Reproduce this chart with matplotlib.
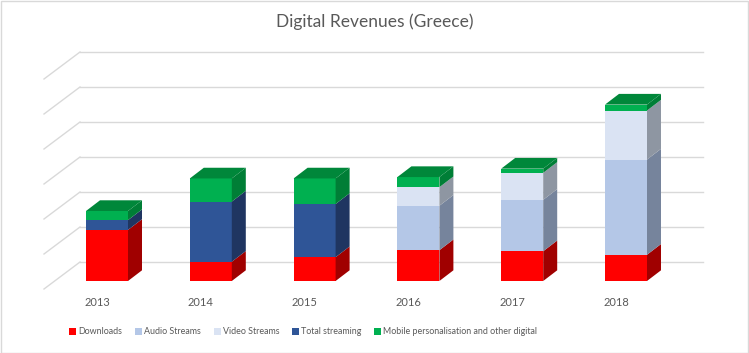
import matplotlib
matplotlib.use("Agg")
import matplotlib.pyplot as plt
from matplotlib.patches import Polygon, Rectangle

# ---- data (values in gridline units) ----
years = ["2013", "2014", "2015", "2016", "2017", "2018"]
downloads = [1.46, 0.55, 0.68, 0.88, 0.85, 0.75]
audio_streams = [0.0, 0.0, 0.0, 1.27, 1.47, 2.72]
video_streams = [0.0, 0.0, 0.0, 0.53, 0.77, 1.40]
total_streaming = [0.28, 1.72, 1.52, 0.0, 0.0, 0.0]
mobile_other = [0.26, 0.66, 0.73, 0.29, 0.12, 0.17]
series_names = ["Downloads", "Audio Streams", "Video Streams", "Total streaming",
                "Mobile personalisation and other digital"]
gridlines = [0, 1, 2, 3, 4, 5, 6]

series = [downloads, audio_streams, video_streams, total_streaming, mobile_other]
front_cols = ["#FF0000", "#B4C7E7", "#DAE3F3", "#2F5597", "#00B050"]
side_cols = ["#A00000", "#76849C", "#8E96A2", "#1F3561", "#007E36"]
top_cols = ["#C00000", "#8A9AB5", "#B0B8C4", "#24406F", "#00873A"]

W, H = 749, 353
fig = plt.figure(figsize=(W / 100, H / 100), dpi=100)
ax = fig.add_axes([0, 0, 1, 1])
ax.set_axis_off()

# pixel-based scale helpers
XS = 103.8   # px per category
YS = 35.0    # px per value unit
x0px, y0px = 107.0, 281.0
ax.set_xlim(-x0px / XS, (W - x0px) / XS)
ax.set_ylim((y0px - H) / YS, y0px / YS)

def dxu(p):
    return p / XS

def dyu(p):
    return p / YS

# depth offsets
bdx, bdy = dxu(14), dyu(10.7)        # bar depth
wdx, wdy = dxu(25.3), dyu(19)        # back wall from bar front plane
hw = dxu(21)                          # half bar width

# gridlines: back wall + left wall diagonals
xl_back = -x0px / XS + dxu(80)
xr_back = -x0px / XS + dxu(703)
for g in gridlines:
    yb = g + wdy
    ax.plot([xl_back, xr_back], [yb, yb], color="#D9D9D9", lw=1.0, zorder=1)
    ax.plot([xl_back - dxu(36), xl_back], [yb - dyu(27), yb], color="#D9D9D9", lw=1.0, zorder=1)

# bars
for i, yr in enumerate(years):
    xc = i
    base = 0.0
    segs = []
    for s, vals in enumerate(series):
        v = vals[i]
        if v <= 0:
            continue
        segs.append((s, base, base + v))
        base += v
    for k, (s, b, t) in enumerate(segs):
        xL, xR = xc - hw, xc + hw
        ax.add_patch(Rectangle((xL, b), 2 * hw, t - b, facecolor=front_cols[s],
                               edgecolor="none", zorder=3))
        side = [(xR, b), (xR + bdx, b + bdy), (xR + bdx, t + bdy), (xR, t)]
        ax.add_patch(Polygon(side, closed=True, facecolor=side_cols[s],
                             edgecolor="none", zorder=3))
        if k == len(segs) - 1:
            top = [(xL, t), (xR, t), (xR + bdx, t + bdy), (xL + bdx, t + bdy)]
            ax.add_patch(Polygon(top, closed=True, facecolor=top_cols[s],
                                 edgecolor="none", zorder=3))
    ax.text(xc - dxu(10), dyu(-22), yr, ha="center", va="center",
            fontsize=8, color="#595959", family="Lato")

# title
ax.text((375 - x0px) / XS, (y0px - 22) / YS, "Digital Revenues (Greece)", ha="center",
        va="center", fontsize=12.5, color="#595959", family="Lato")

# legend
leg_x = [72, 138, 217, 295, 377]
ly = (y0px - 331) / YS
for s, name in enumerate(series_names):
    lx = (leg_x[s] - x0px) / XS
    ax.add_patch(Rectangle((lx - dxu(3.5), ly - dyu(3.5)), dxu(7), dyu(7),
                           facecolor=front_cols[s], edgecolor="none", zorder=3))
    ax.text(lx + dxu(6), ly, name, ha="left", va="center", fontsize=6.4,
            color="#595959", family="Lato")

# outer border
fig.patches.append(Rectangle((0.5 / W, 0.5 / H), 1 - 1.5 / W, 1 - 1.5 / H,
                             transform=fig.transFigure, facecolor="none",
                             edgecolor="#D9D9D9", lw=1.0))

fig.savefig("out.png", dpi=100)
